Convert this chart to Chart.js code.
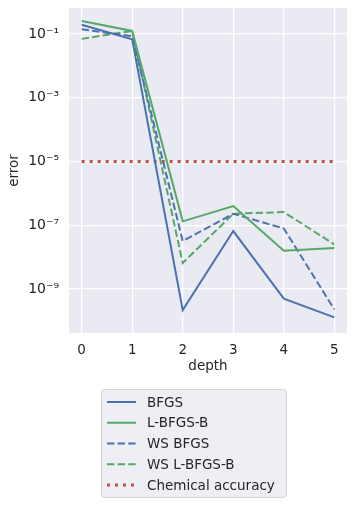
<!DOCTYPE html>
<html>
<head>
<meta charset="utf-8">
<script src="https://cdn.jsdelivr.net/npm/chart.js@4"></script>
<style>
  html, body { margin: 0; padding: 0; background: #ffffff; }
  #wrap { width: 354px; height: 505px; }
</style>
</head>
<body>
<div id="wrap"><canvas id="errorChart" width="354" height="505"></canvas></div>
<script>
// values
const depths = [0, 1, 2, 3, 4, 5];
const bfgs = [0.195, 0.068, 2.2e-10, 6.6e-8, 5.0e-10, 1.3e-10];
const lbfgsb = [0.255, 0.124, 1.33e-7, 4.0e-7, 1.6e-8, 1.95e-8];
const wsBfgs = [0.14, 0.085, 3.2e-8, 2.3e-7, 7.9e-8, 2.3e-10];
const wsLbfgsb = [0.07, 0.124, 6.6e-9, 2.3e-7, 2.6e-7, 2.5e-8];
const chemicalAccuracy = [1e-5, 1e-5, 1e-5, 1e-5, 1e-5, 1e-5];
const yTicks = [1e-1, 1e-3, 1e-5, 1e-7, 1e-9];
const yTickLabels = ['10⁻¹', '10⁻³', '10⁻⁵', '10⁻⁷', '10⁻⁹'];

const FONT = 'DejaVu Sans';
const TEXT = '#262626';

function points(arr) {
    return depths.map((d, i) => ({ x: d, y: arr[i] }));
}

// seaborn style plot background
const bgPlugin = {
    id: 'plotBg',
    beforeDraw(chart) {
        const { ctx, chartArea: a } = chart;
        ctx.save();
        ctx.fillStyle = '#eaeaf2';
        ctx.fillRect(a.left, a.top, a.right - a.left, a.bottom - a.top);
        ctx.restore();
    }
};

// legend as a single column below the axes
const legendPlugin = {
    id: 'columnLegend',
    afterDraw(chart) {
        const ctx = chart.ctx;
        const x0 = 101, y0 = 389, w = 185, h = 108;
        ctx.save();
        ctx.beginPath();
        ctx.roundRect(x0 + 0.5, y0 + 0.5, w, h, 3);
        ctx.fillStyle = '#eeeef5';
        ctx.fill();
        ctx.strokeStyle = '#d6d6d6';
        ctx.lineWidth = 1;
        ctx.stroke();
        ctx.font = '13.5px "' + FONT + '"';
        ctx.textBaseline = 'middle';
        ctx.fillStyle = TEXT;
        chart.data.datasets.forEach((ds, i) => {
            const y = 402 + i * 20.75;
            ctx.beginPath();
            ctx.setLineDash(ds.borderDash || []);
            ctx.lineWidth = ds.borderWidth;
            ctx.strokeStyle = ds.borderColor;
            ctx.lineCap = 'butt';
            ctx.moveTo(107, y);
            ctx.lineTo(136, y);
            ctx.stroke();
            ctx.setLineDash([]);
            ctx.fillText(ds.label, 147, y + 1);
        });
        ctx.restore();
    }
};

const ctx = document.getElementById('errorChart').getContext('2d');
const errorChart = new Chart(ctx, {
    type: 'line',
    data: {
        datasets: [
            { label: 'BFGS', data: points(bfgs), borderColor: '#4c72b0', borderWidth: 2 },
            { label: 'L-BFGS-B', data: points(lbfgsb), borderColor: '#55a868', borderWidth: 2 },
            { label: 'WS BFGS', data: points(wsBfgs), borderColor: '#4c72b0', borderWidth: 2, borderDash: [7.4, 3.2] },
            { label: 'WS L-BFGS-B', data: points(wsLbfgsb), borderColor: '#55a868', borderWidth: 2, borderDash: [7.4, 3.2] },
            { label: 'Chemical accuracy', data: points(chemicalAccuracy), borderColor: '#c44e52', borderWidth: 3, borderDash: [3, 5] }
        ]
    },
    options: {
        responsive: false,
        animation: false,
        layout: { padding: { left: 0, right: 7, top: 8, bottom: 125 } },
        elements: {
            point: { radius: 0, hoverRadius: 0 },
            line: { tension: 0, fill: false }
        },
        plugins: {
            legend: { display: false },
            tooltip: { enabled: false }
        },
        scales: {
            x: {
                type: 'linear',
                min: -0.25,
                max: 5.25,
                afterBuildTicks: scale => { scale.ticks = depths.map(v => ({ value: v })); },
                afterFit: scale => {
                    scale.height = 47;
                    scale.paddingLeft = 0;
                    scale.paddingRight = 0;
                },
                grid: { color: '#ffffff', lineWidth: 1.25, drawTicks: false },
                border: { display: false },
                ticks: {
                    padding: 9,
                    color: TEXT,
                    font: { family: FONT, size: 13.5 },
                    maxRotation: 0,
                    callback: v => String(v)
                },
                title: {
                    display: true,
                    text: 'depth',
                    color: TEXT,
                    font: { family: FONT, size: 13.5 },
                    padding: { top: 0, bottom: 5 }
                }
            },
            y: {
                type: 'logarithmic',
                min: 4.2e-11,
                max: 0.65,
                afterBuildTicks: scale => { scale.ticks = yTicks.map(v => ({ value: v })); },
                afterFit: scale => {
                    scale.width = 69;
                    scale.paddingTop = 0;
                    scale.paddingBottom = 0;
                },
                grid: { color: '#ffffff', lineWidth: 1.25, drawTicks: false },
                border: { display: false },
                ticks: {
                    padding: 10,
                    color: TEXT,
                    font: { family: FONT, size: 14 },
                    callback: (v) => {
                        const i = yTicks.indexOf(v);
                        return i >= 0 ? yTickLabels[i] : '';
                    }
                },
                title: {
                    display: true,
                    text: 'error',
                    color: TEXT,
                    font: { family: FONT, size: 13.5 },
                    padding: { top: 6, bottom: 0 }
                }
            }
        }
    },
    plugins: [bgPlugin, legendPlugin]
});
</script>
</body>
</html>
